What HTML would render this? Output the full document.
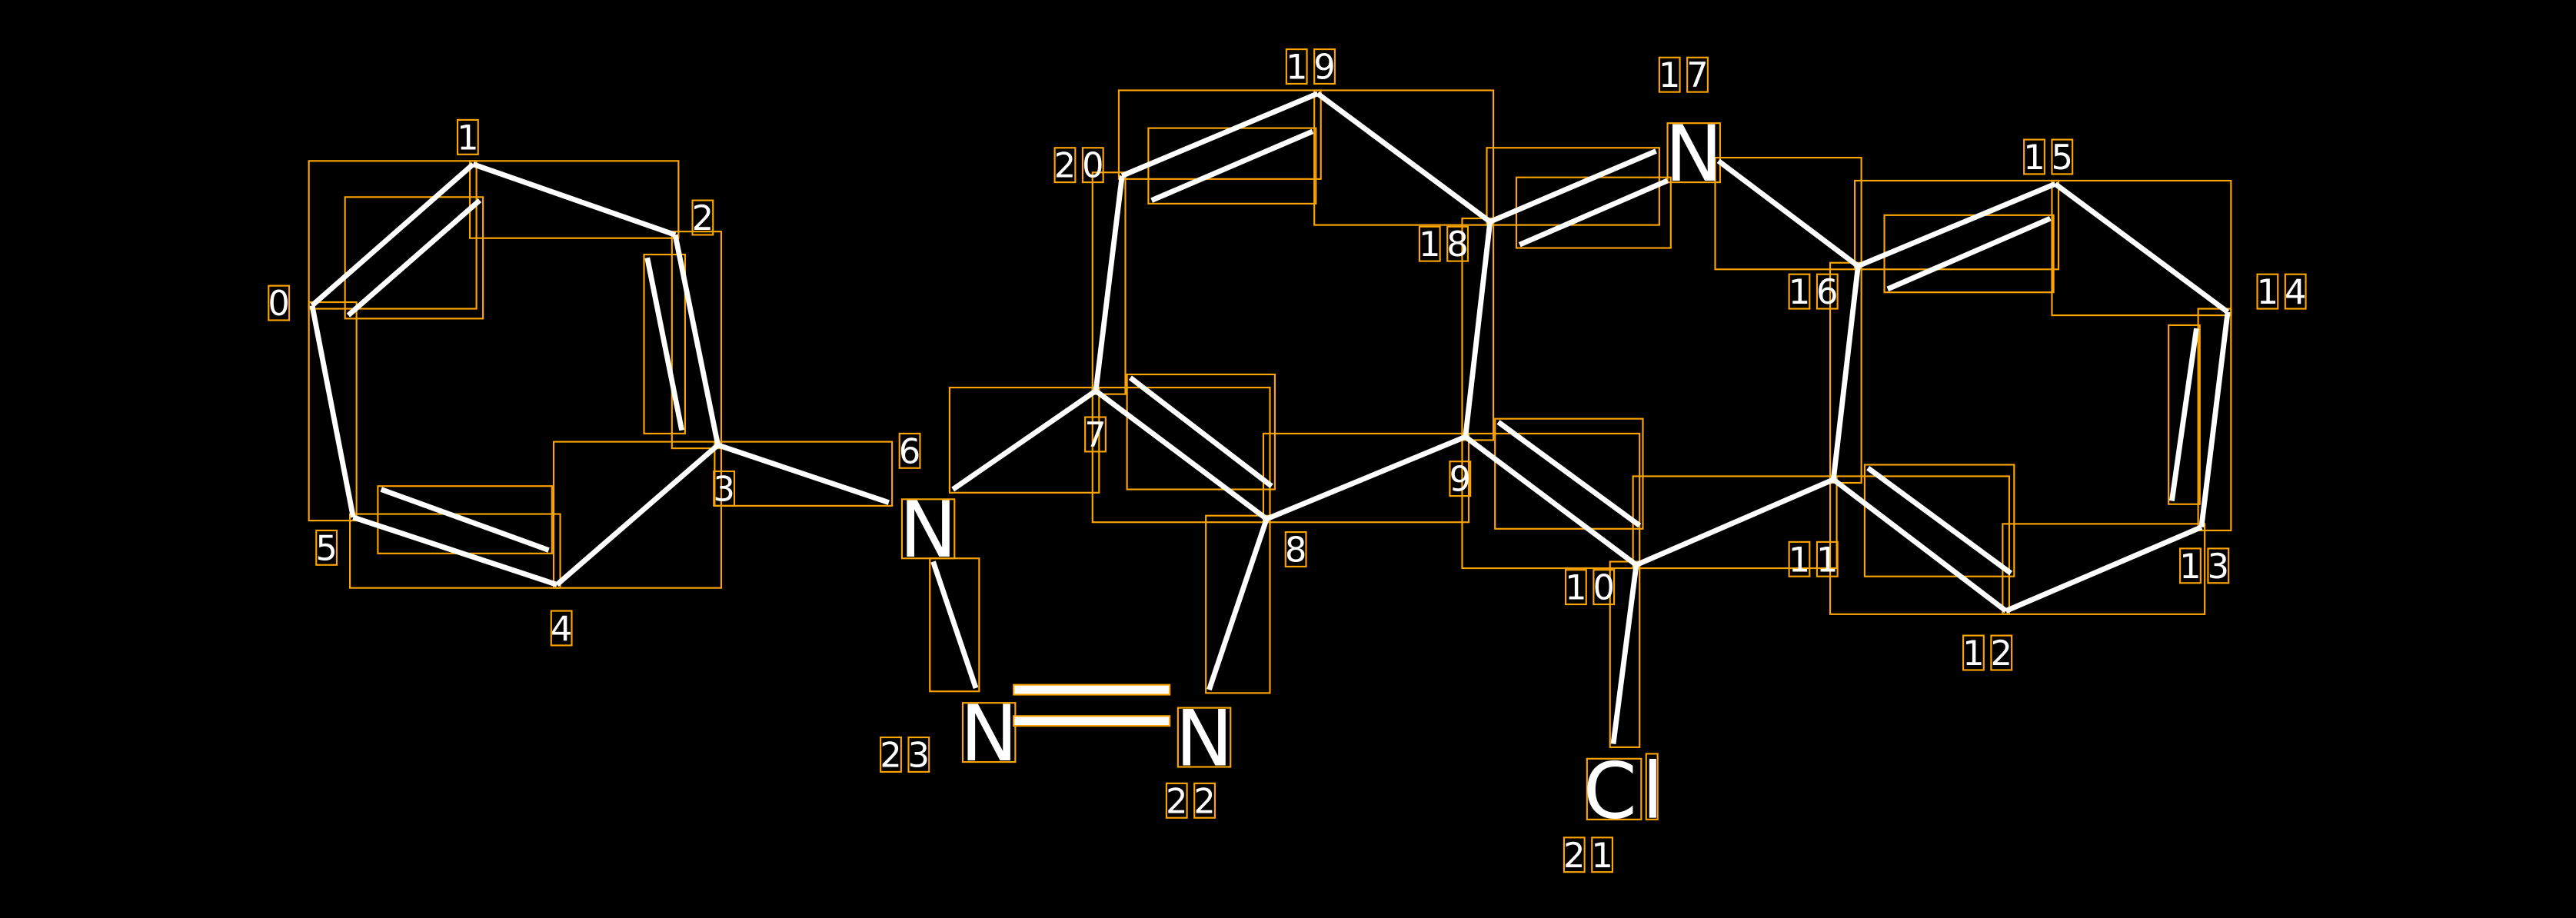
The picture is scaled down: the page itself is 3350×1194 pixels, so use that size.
<!DOCTYPE html>
<html><head><meta charset="utf-8"><style>
html,body{margin:0;padding:0;background:#000;}
svg{display:block;}
</style></head><body>
<svg id="s" width="3350" height="1194" viewBox="0 0 1568 559" preserveAspectRatio="none" xmlns="http://www.w3.org/2000/svg">
<rect x="0" y="0" width="1568" height="559" fill="#000"/>
<g id="boxes" fill="none" stroke="#FFA500" stroke-width="1"></g>
<g id="bonds" stroke="#fff" stroke-width="3.2" stroke-linecap="butt"></g>
<g id="labels" font-family="'DejaVu Sans','Liberation Sans',sans-serif" fill="#fff"></g>
</svg>
<script>
var NS="http://www.w3.org/2000/svg";
var bonds=[
[190,186,288,100],[212,192,292,122],
[288,100,411,143],
[411,143,437,271],[394,157,415,262],
[437,271,339,356],
[339,356,215,315],[232,298,334,335],
[215,315,190,186],
[437,271,541,306],
[580,298,667,238],
[667,238,771,316],[688,230,774,296],
[667,238,683,107],
[683,107,802,57],[701,122,799,80],
[802,57,907,135],
[907,135,1008,92],[925,149,1015,110],
[1046,98,1131,162],
[1131,162,1251,112],[1149,176,1248,133],
[1251,112,1356,190],
[1356,190,1340,321],[1337,200,1322,305],
[1340,321,1221,372],
[1221,372,1116,292],[1224,349,1137,285],
[1116,292,1131,162],
[1116,292,996,344],
[996,344,892,266],[998,320,912,257],
[892,266,907,135],
[892,266,771,316],
[771,316,736,420],
[568,342,594,419],
[996,344,982,453]
];
var gb=document.getElementById('bonds'),gx=document.getElementById('boxes'),gl=document.getElementById('labels');
function el(t,a,p){var e=document.createElementNS(NS,t);for(var k in a)e.setAttribute(k,a[k]);p.appendChild(e);return e;}
bonds.forEach(function(b){
 el('line',{x1:b[0],y1:b[1],x2:b[2],y2:b[3]},gb);
 var x=Math.min(b[0],b[2])-2,y=Math.min(b[1],b[3])-2,w=Math.abs(b[2]-b[0])+4,h=Math.abs(b[3]-b[1])+4;
 el('rect',{x:x,y:y,width:w,height:h},gx);
});
[[617,417,712,423],[617,436,712,442]].forEach(function(r){
 el('rect',{x:r[0],y:r[1],width:r[2]-r[0],height:r[3]-r[1],fill:'#fff',stroke:'#FFA500','stroke-width':1},gb);
});
var nums=[["0",170,184],["1",285,83],["2",428,132],["3",441,297],["4",342,382],["5",199,333],["6",554,274],["7",667,264],["8",789,334],["9",889,291],["10",968,357],["11",1104,340],["12",1210,397],["13",1342,344],["14",1389,177],["15",1247,95],["16",1104,177],["17",1025,45],["18",879,148],["19",798,40],["20",657,100],["21",967,520],["22",725,487],["23",551,459]];
nums.forEach(function(n){
 var s=n[0],cw=17,tot=(s.length-1)*cw+12,x0=n[1]-tot/2;
 for(var i=0;i<s.length;i++){
  var cx=x0+i*cw;
  el('rect',{x:cx-0.5,y:n[2]-10,width:12.5,height:21},gx);
  var t=el('text',{x:cx+5.75,y:n[2]+8,'font-size':21,'text-anchor':'middle'},gl);t.textContent=s[i];
 }
});
var els=[["N",565,322],["N",1031,93],["N",602,446],["N",733,449]];
els.forEach(function(e){
 var t=el('text',{x:e[1],y:e[2]+17,'font-size':47,'text-anchor':'middle'},gl);t.textContent=e[0];
 el('rect',{x:e[1]-16,y:e[2]-18,width:32,height:36},gx);
});
var t=el('text',{x:980,y:498,'font-size':47,'text-anchor':'middle'},gl);t.textContent="C";
el('rect',{x:966,y:462,width:33,height:37},gx);
var t2=el('text',{x:1006,y:498,'font-size':47,'text-anchor':'middle'},gl);t2.textContent="l";
el('rect',{x:1002,y:459,width:7,height:40},gx);
</script>
</body></html>
